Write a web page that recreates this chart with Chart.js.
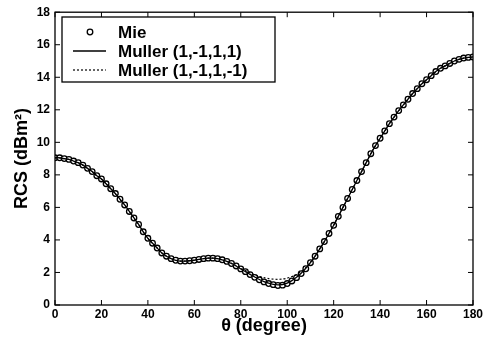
<!DOCTYPE html>
<html>
<head>
<meta charset="utf-8">
<script src="https://cdn.jsdelivr.net/npm/chart.js@4/dist/chart.umd.min.js"></script>
<style>
  html, body { margin: 0; padding: 0; background: #fff; }
  #wrap { width: 493px; height: 347px; }
</style>
</head>
<body>
<div id="wrap"><canvas id="rcs" width="493" height="347"></canvas></div>
<script>
var theta = [0,2,4,6,8,10,12,14,16,18,20,22,24,26,28,30,32,34,36,38,40,42,44,46,48,50,
  52,54,56,58,60,62,64,66,68,70,72,74,76,78,80,82,84,86,88,90,92,94,96,98,100,
  102,104,106,108,110,112,114,116,118,120,122,124,126,128,130,132,134,136,138,140,
  142,144,146,148,150,152,154,156,158,160,162,164,166,168,170,172,174,176,178,180];

var mie = [9.05,9.05,9.0,8.95,8.85,8.75,8.6,8.4,8.2,7.95,7.75,7.45,7.15,6.85,6.5,6.15,
  5.75,5.35,4.95,4.5,4.1,3.8,3.5,3.2,3.0,2.85,2.75,2.7,2.7,2.72,2.75,2.8,2.85,2.88,
  2.88,2.85,2.78,2.68,2.55,2.4,2.22,2.05,1.87,1.7,1.55,1.42,1.32,1.25,1.2,1.22,1.32,
  1.48,1.68,1.93,2.23,2.6,3.0,3.45,3.9,4.4,4.9,5.45,6.0,6.55,7.1,7.65,8.2,8.75,9.3,
  9.8,10.25,10.7,11.15,11.55,11.95,12.3,12.65,13.0,13.3,13.6,13.85,14.1,14.35,14.55,
  14.7,14.85,15.0,15.1,15.18,15.22,15.25];

var mullerA = [9.05,9.05,9.0,8.95,8.85,8.75,8.6,8.4,8.2,7.95,7.75,7.45,7.15,6.85,6.5,6.15,
  5.75,5.35,4.95,4.5,4.1,3.8,3.5,3.2,3.0,2.85,2.75,2.7,2.7,2.72,2.75,2.8,2.85,2.88,
  2.88,2.85,2.78,2.68,2.55,2.4,2.22,2.05,1.88,1.72,1.57,1.44,1.34,1.27,1.24,1.26,1.35,
  1.5,1.7,1.95,2.25,2.6,3.0,3.45,3.9,4.4,4.9,5.45,6.0,6.55,7.1,7.65,8.2,8.75,9.3,
  9.8,10.25,10.7,11.15,11.55,11.95,12.3,12.65,13.0,13.3,13.6,13.85,14.1,14.35,14.55,
  14.7,14.85,15.0,15.1,15.18,15.22,15.25];

var mullerB = [9.05,9.05,9.0,8.95,8.85,8.75,8.6,8.4,8.2,7.95,7.75,7.45,7.15,6.85,6.5,6.15,
  5.75,5.35,4.95,4.5,4.1,3.8,3.5,3.2,3.0,2.85,2.75,2.7,2.7,2.72,2.75,2.8,2.85,2.88,
  2.88,2.85,2.78,2.68,2.56,2.42,2.26,2.12,1.98,1.86,1.76,1.68,1.62,1.59,1.58,1.6,1.65,
  1.75,1.88,2.05,2.3,2.62,3.0,3.45,3.9,4.4,4.9,5.45,6.0,6.55,7.1,7.65,8.2,8.75,9.3,
  9.8,10.25,10.7,11.15,11.55,11.95,12.3,12.65,13.0,13.3,13.6,13.85,14.1,14.35,14.55,
  14.7,14.85,15.0,15.1,15.18,15.22,15.25];

var xTicks = [0,20,40,60,80,100,120,140,160,180];
var yTicks = [0,2,4,6,8,10,12,14,16,18];
var seriesNames = ["Mie", "Muller (1,-1,1,1)", "Muller (1,-1,1,-1)"];

function pts(ys) {
  var out = [];
  for (var i = 0; i < theta.length; i++) out.push({x: theta[i], y: ys[i]});
  return out;
}

var FONT = "'Liberation Sans', Arial, sans-serif";

// frame + inward ticks on all four sides, like the original plot
var framePlugin = {
  id: 'frame',
  afterDatasetsDraw: function(chart) {
    var ctx = chart.ctx, a = chart.chartArea;
    var xs = chart.scales.x, ys = chart.scales.y;
    ctx.save();
    ctx.strokeStyle = '#000';
    ctx.lineWidth = 1.3;
    ctx.strokeRect(a.left, a.top, a.right - a.left, a.bottom - a.top);
    ctx.lineWidth = 1;
    ctx.beginPath();
    xTicks.forEach(function(v) {
      var px = xs.getPixelForValue(v);
      ctx.moveTo(px, a.bottom); ctx.lineTo(px, a.bottom - 5);
      ctx.moveTo(px, a.top); ctx.lineTo(px, a.top + 5);
    });
    yTicks.forEach(function(v) {
      var py = ys.getPixelForValue(v);
      ctx.moveTo(a.left, py); ctx.lineTo(a.left + 5, py);
      ctx.moveTo(a.right, py); ctx.lineTo(a.right - 5, py);
    });
    ctx.stroke();
    ctx.restore();
  },
  afterDraw: function(chart) {
    // legend box inside the plot, top-left
    var ctx = chart.ctx;
    var bx = 62, by = 17, bw = 213, bh = 65;
    ctx.save();
    ctx.fillStyle = '#fff';
    ctx.fillRect(bx, by, bw, bh);
    ctx.strokeStyle = '#000';
    ctx.lineWidth = 1.3;
    ctx.strokeRect(bx, by, bw, bh);
    var rows = [32, 51, 70];
    ctx.font = "bold 17px " + FONT;
    ctx.textBaseline = 'middle';
    ctx.textAlign = 'left';
    // marker
    ctx.beginPath();
    ctx.arc(90, rows[0], 2.8, 0, Math.PI * 2);
    ctx.fillStyle = '#fff'; ctx.fill();
    ctx.lineWidth = 1.3; ctx.strokeStyle = '#000'; ctx.stroke();
    // solid
    ctx.beginPath();
    ctx.moveTo(73, rows[1]); ctx.lineTo(106, rows[1]);
    ctx.lineWidth = 1.3; ctx.stroke();
    // dotted
    ctx.setLineDash([2, 2]);
    ctx.beginPath();
    ctx.moveTo(73, rows[2]); ctx.lineTo(106, rows[2]);
    ctx.lineWidth = 1.2; ctx.stroke();
    ctx.setLineDash([]);
    ctx.fillStyle = '#000';
    for (var i = 0; i < seriesNames.length; i++) {
      ctx.fillText(seriesNames[i], 118, rows[i] + 1);
    }
    ctx.restore();
  }
};

new Chart(document.getElementById("rcs"), {
  type: 'line',
  data: {
    datasets: [{
      label: seriesNames[1],
      data: pts(mullerA),
      borderColor: '#000',
      borderWidth: 1.3,
      pointRadius: 0,
      fill: false,
      tension: 0.3
    }, {
      label: seriesNames[2],
      data: pts(mullerB),
      borderColor: '#000',
      borderWidth: 1.2,
      borderDash: [2, 2],
      pointRadius: 0,
      fill: false,
      tension: 0.3
    }, {
      label: seriesNames[0],
      data: pts(mie),
      showLine: false,
      pointStyle: 'circle',
      pointRadius: 2.8,
      pointBorderWidth: 1.3,
      pointBorderColor: '#000',
      pointBackgroundColor: '#fff'
    }]
  },
  options: {
    responsive: false,
    animation: false,
    layout: { padding: { top: 12, right: 20, left: 0, bottom: 0 } },
    plugins: { legend: { display: false }, tooltip: { enabled: false } },
    scales: {
      x: {
        type: 'linear',
        min: 0, max: 180,
        afterBuildTicks: function(s) { s.ticks = xTicks.map(function(v) { return {value: v}; }); },
        afterFit: function(s) { s.height = 42; },
        grid: { display: false, drawTicks: false },
        border: { display: false },
        ticks: { color: '#000', padding: 2, maxRotation: 0, font: { family: FONT, size: 12, weight: 'bold' } },
        title: { display: true, text: 'θ (degree)', color: '#000', padding: { bottom: 10 }, font: { family: FONT, size: 18, weight: 'bold' } }
      },
      y: {
        min: 0, max: 18,
        afterBuildTicks: function(s) { s.ticks = yTicks.map(function(v) { return {value: v}; }); },
        afterFit: function(s) { s.width = 55; },
        grid: { display: false, drawTicks: false },
        border: { display: false },
        ticks: { color: '#000', padding: 5, font: { family: FONT, size: 12, weight: 'bold' } },
        title: { display: true, text: 'RCS (dBm²)', color: '#000', padding: { top: 11 }, font: { family: FONT, size: 18, weight: 'bold' } }
      }
    }
  },
  plugins: [framePlugin]
});
</script>
</body>
</html>
